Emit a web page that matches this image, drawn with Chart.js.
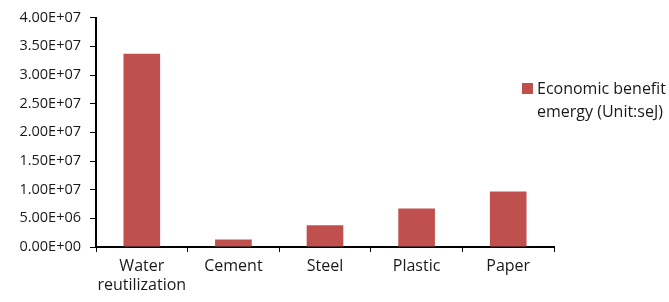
<!DOCTYPE html>
<html>
<head>
<meta charset="utf-8">
<script src="https://cdn.jsdelivr.net/npm/chart.js@4/dist/chart.umd.min.js"></script>
<style>
html,body{margin:0;padding:0;background:#fff;}
#wrap{width:669px;height:302px;position:relative;}
</style>
</head>
<body>
<div id="wrap"><canvas id="c" width="669" height="302"></canvas></div>
<script>
const categories = [["Water","reutilization"],"Cement","Steel","Plastic","Paper"];
const benefit = [3.37e7,1.33e6,3.81e6,6.7e6,9.7e6];
const legendLines = ["Economic benefit","emergy (Unit:seJ)"];
const barColor = "#C0504D";

function sci(v){
  const s = Number(v).toExponential(2).toUpperCase();
  const m = s.match(/^(.*)E([+-])(\d+)$/);
  return m[1]+"E"+m[2]+m[3].padStart(2,"0");
}

const legendPlugin = {
  id:"sideLegend",
  afterDraw(chart){
    const ctx = chart.ctx;
    ctx.save();
    ctx.fillStyle = barColor;
    ctx.fillRect(522,83,11,11);
    ctx.fillStyle = "#1a1a1a";
    ctx.font = "16px 'Open Sans'";
    ctx.textBaseline = "middle";
    ctx.fillText(legendLines[0],537,89);
    ctx.fillText(legendLines[1],537,112);
    ctx.restore();
  }
};

Chart.defaults.font.family = "'Open Sans'";
new Chart(document.getElementById("c"),{
  type:"bar",
  data:{
    labels:categories,
    datasets:[{
      label:legendLines.join(" "),
      data:benefit,
      backgroundColor:barColor,
      categoryPercentage:1,
      barPercentage:0.4
    }]
  },
  options:{
    responsive:false,
    animation:false,
    layout:{padding:{top:16,right:115,left:0,bottom:0}},
    plugins:{legend:{display:false},tooltip:{enabled:false}},
    scales:{
      x:{
        grid:{display:true,drawOnChartArea:false,offset:true,color:"#000",tickColor:"#000",tickLength:5},
        border:{color:"#000",width:2},
        ticks:{color:"#1a1a1a",font:{size:16},padding:5,maxRotation:0,autoSkip:false},
        afterFit(s){s.height=55;}
      },
      y:{
        min:0,max:4e7,
        grid:{display:true,drawOnChartArea:false,color:"#000",tickColor:"#000",tickLength:6},
        border:{color:"#000",width:2},
        ticks:{stepSize:5e6,color:"#1a1a1a",font:{size:14.5},padding:9,callback:v=>sci(v)},
        afterFit(s){s.width=96;}
      }
    }
  },
  plugins:[legendPlugin]
});
</script>
</body>
</html>
